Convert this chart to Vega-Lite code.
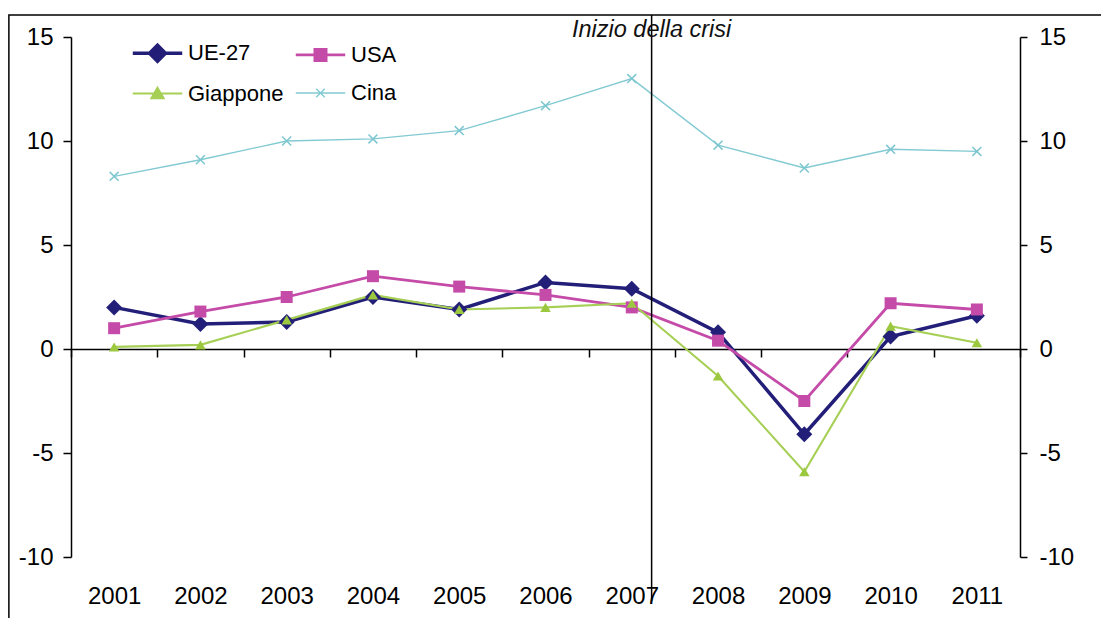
{
  "$schema": "https://vega.github.io/schema/vega-lite/v6.json",
  "width": 949,
  "height": 520,
  "autosize": "none",
  "padding": {"left": 71, "top": 37, "right": 81, "bottom": 61},
  "background": "white",
  "config": {
    "view": {"stroke": null},
    "font": "Liberation Sans",
    "axis": {"labelFont": "Liberation Sans", "labelColor": "#000000", "domainColor": "#000000", "tickColor": "#000000", "grid": false, "title": null}
  },
  "datasets": {
    "growth": [
      {"year": 2001, "series": "UE-27", "value": 2.0},
      {"year": 2002, "series": "UE-27", "value": 1.2},
      {"year": 2003, "series": "UE-27", "value": 1.3},
      {"year": 2004, "series": "UE-27", "value": 2.5},
      {"year": 2005, "series": "UE-27", "value": 1.9},
      {"year": 2006, "series": "UE-27", "value": 3.2},
      {"year": 2007, "series": "UE-27", "value": 2.9},
      {"year": 2008, "series": "UE-27", "value": 0.8},
      {"year": 2009, "series": "UE-27", "value": -4.1},
      {"year": 2010, "series": "UE-27", "value": 0.6},
      {"year": 2011, "series": "UE-27", "value": 1.6},
      {"year": 2001, "series": "USA", "value": 1.0},
      {"year": 2002, "series": "USA", "value": 1.8},
      {"year": 2003, "series": "USA", "value": 2.5},
      {"year": 2004, "series": "USA", "value": 3.5},
      {"year": 2005, "series": "USA", "value": 3.0},
      {"year": 2006, "series": "USA", "value": 2.6},
      {"year": 2007, "series": "USA", "value": 2.0},
      {"year": 2008, "series": "USA", "value": 0.4},
      {"year": 2009, "series": "USA", "value": -2.5},
      {"year": 2010, "series": "USA", "value": 2.2},
      {"year": 2011, "series": "USA", "value": 1.9},
      {"year": 2001, "series": "Giappone", "value": 0.1},
      {"year": 2002, "series": "Giappone", "value": 0.2},
      {"year": 2003, "series": "Giappone", "value": 1.4},
      {"year": 2004, "series": "Giappone", "value": 2.6},
      {"year": 2005, "series": "Giappone", "value": 1.9},
      {"year": 2006, "series": "Giappone", "value": 2.0},
      {"year": 2007, "series": "Giappone", "value": 2.2},
      {"year": 2008, "series": "Giappone", "value": -1.3},
      {"year": 2009, "series": "Giappone", "value": -5.9},
      {"year": 2010, "series": "Giappone", "value": 1.1},
      {"year": 2011, "series": "Giappone", "value": 0.3},
      {"year": 2001, "series": "Cina", "value": 8.3},
      {"year": 2002, "series": "Cina", "value": 9.1},
      {"year": 2003, "series": "Cina", "value": 10.0},
      {"year": 2004, "series": "Cina", "value": 10.1},
      {"year": 2005, "series": "Cina", "value": 10.5},
      {"year": 2006, "series": "Cina", "value": 11.7},
      {"year": 2007, "series": "Cina", "value": 13.0},
      {"year": 2008, "series": "Cina", "value": 9.8},
      {"year": 2009, "series": "Cina", "value": 8.7},
      {"year": 2010, "series": "Cina", "value": 9.6},
      {"year": 2011, "series": "Cina", "value": 9.5}
    ],
    "events": [
      {"year": 2007.23, "top": 16.06, "bottom": -12.1, "labelY": 15.34, "label": "Inizio della crisi"}
    ]
  },
  "layer": [
    {
      "data": {"name": "events"},
      "mark": {"type": "rect", "fill": null, "fillOpacity": 0, "stroke": "#000000", "strokeWidth": 1.5, "clip": false},
      "encoding": {
        "x": {"datum": 1999.78, "type": "quantitative", "scale": {"domain": [2000.5, 2011.5], "nice": false, "zero": false}, "axis": null},
        "x2": {"datum": 2013.5},
        "y": {"field": "top", "type": "quantitative", "scale": {"domain": [-10, 15], "nice": false, "zero": false}, "axis": null},
        "y2": {"datum": -14}
      }
    },
    {
      "data": {"name": "growth"},
      "mark": {"type": "line", "clip": false},
      "encoding": {
        "x": {
          "field": "year", "type": "quantitative",
          "scale": {"domain": [2000.5, 2011.5], "nice": false, "zero": false},
          "axis": {"orient": "bottom", "offset": -208, "values": [2000.5, 2001.5, 2002.5, 2003.5, 2004.5, 2005.5, 2006.5, 2007.5, 2008.5, 2009.5, 2010.5, 2011.5], "labels": false, "tickSize": 8, "domainWidth": 1.5, "tickWidth": 1.5}
        },
        "y": {
          "field": "value", "type": "quantitative",
          "scale": {"domain": [-10, 15], "nice": false, "zero": false},
          "axis": {"orient": "left", "values": [-10, -5, 0, 5, 10, 15], "labelExpr": "'' + datum.value", "tickSize": 8, "labelPadding": 10, "labelFontSize": 24, "domainWidth": 1.5, "tickWidth": 1.5}
        },
        "color": {
          "field": "series", "type": "nominal",
          "scale": {"domain": ["UE-27", "USA", "Giappone", "Cina"], "range": ["#231F78", "#C54BA8", "#A6CF55", "#82CAD2"]},
          "legend": {
            "orient": "none", "legendX": 63, "legendY": -7.5,
            "direction": "horizontal", "columns": 2, "title": null,
            "symbolSize": 1849, "labelOffset": 7, "columnPadding": 6, "rowPadding": 2,
            "labelFont": "Liberation Sans", "labelFontSize": 22, "labelColor": "#000000",
            "encode": {
              "symbols": {
                "update": {
                  "shape": {"signal": "datum.value === 'UE-27' ? 'M-1.15,0H1.15M0,-0.37L0.37,0L0,0.37L-0.37,0Z' : datum.value === 'USA' ? 'M-1.15,0H1.15M-0.26,-0.26H0.26V0.26H-0.26Z' : datum.value === 'Giappone' ? 'M-1.15,0H1.15M0,-0.26L0.28,0.22H-0.28Z' : 'M-1.15,0H1.15M-0.2,-0.2L0.2,0.2M-0.2,0.2L0.2,-0.2'"},
                  "fill": {"signal": "scale('color', datum.value)"},
                  "stroke": {"signal": "scale('color', datum.value)"},
                  "strokeWidth": {"signal": "datum.value === 'UE-27' ? 3.5 : 1.5"},
                  "opacity": {"value": 1},
                  "fillOpacity": {"value": 1}
                }
              }
            }
          }
        },
        "strokeWidth": {
          "field": "series", "type": "nominal",
          "scale": {"domain": ["UE-27", "USA", "Giappone", "Cina"], "range": [3.5, 1.4, 1.4, 1.4]},
          "legend": null
        }
      }
    },
    {
      "data": {"name": "growth"},
      "transform": [{"filter": "datum.series === 'UE-27'"}],
      "mark": {"type": "point", "shape": "diamond", "filled": true, "opacity": 1, "size": 256, "color": "#231F78", "clip": false},
      "encoding": {
        "x": {
          "field": "year", "type": "quantitative",
          "scale": {"domain": [2000.5, 2011.5], "nice": false, "zero": false},
          "axis": {"orient": "bottom", "values": [2001, 2002, 2003, 2004, 2005, 2006, 2007, 2008, 2009, 2010, 2011], "format": "d", "ticks": false, "tickSize": 0, "domain": false, "labelPadding": 27, "labelFontSize": 24, "labelFlush": false}
        },
        "y": {
          "field": "value", "type": "quantitative",
          "scale": {"domain": [-10, 15], "nice": false, "zero": false},
          "axis": {"orient": "right", "values": [-10, -5, 0, 5, 10, 15], "labelExpr": "'' + datum.value", "tickSize": 7, "labelPadding": 12, "labelFontSize": 24, "domainWidth": 1.5, "tickWidth": 1.5}
        }
      }
    },
    {
      "data": {"name": "growth"},
      "transform": [{"filter": "datum.series === 'USA'"}],
      "mark": {"type": "point", "shape": "square", "filled": true, "opacity": 1, "size": 144, "color": "#C54BA8", "clip": false},
      "encoding": {
        "x": {"field": "year", "type": "quantitative", "scale": {"domain": [2000.5, 2011.5], "nice": false, "zero": false}, "axis": null},
        "y": {"field": "value", "type": "quantitative", "scale": {"domain": [-10, 15], "nice": false, "zero": false}, "axis": null}
      }
    },
    {
      "data": {"name": "growth"},
      "transform": [{"filter": "datum.series === 'Giappone'"}],
      "mark": {"type": "point", "shape": "triangle-up", "filled": true, "opacity": 1, "size": 110, "color": "#9BC83F", "clip": false},
      "encoding": {
        "x": {"field": "year", "type": "quantitative", "scale": {"domain": [2000.5, 2011.5], "nice": false, "zero": false}, "axis": null},
        "y": {"field": "value", "type": "quantitative", "scale": {"domain": [-10, 15], "nice": false, "zero": false}, "axis": null}
      }
    },
    {
      "data": {"name": "growth"},
      "transform": [{"filter": "datum.series === 'Cina'"}],
      "mark": {"type": "point", "shape": "M-1,-1L1,1M-1,1L1,-1", "filled": false, "opacity": 1, "size": 80, "strokeWidth": 1.5, "color": "#7CC6CF", "clip": false},
      "encoding": {
        "x": {"field": "year", "type": "quantitative", "scale": {"domain": [2000.5, 2011.5], "nice": false, "zero": false}, "axis": null},
        "y": {"field": "value", "type": "quantitative", "scale": {"domain": [-10, 15], "nice": false, "zero": false}, "axis": null}
      }
    },
    {
      "data": {"name": "events"},
      "mark": {"type": "rule", "color": "#000000", "strokeWidth": 1.5, "clip": false},
      "encoding": {
        "x": {"field": "year", "type": "quantitative", "scale": {"domain": [2000.5, 2011.5], "nice": false, "zero": false}, "axis": null},
        "y": {"field": "top", "type": "quantitative", "scale": {"domain": [-10, 15], "nice": false, "zero": false}, "axis": null},
        "y2": {"field": "bottom"}
      }
    },
    {
      "data": {"name": "events"},
      "mark": {"type": "text", "font": "Liberation Sans", "fontSize": 23.5, "fontStyle": "italic", "color": "#111111", "align": "center", "baseline": "middle", "clip": false},
      "encoding": {
        "x": {"field": "year", "type": "quantitative", "scale": {"domain": [2000.5, 2011.5], "nice": false, "zero": false}, "axis": null},
        "y": {"field": "labelY", "type": "quantitative", "scale": {"domain": [-10, 15], "nice": false, "zero": false}, "axis": null},
        "text": {"field": "label"}
      }
    }
  ],
  "resolve": {"axis": {"x": "independent", "y": "independent"}}
}
